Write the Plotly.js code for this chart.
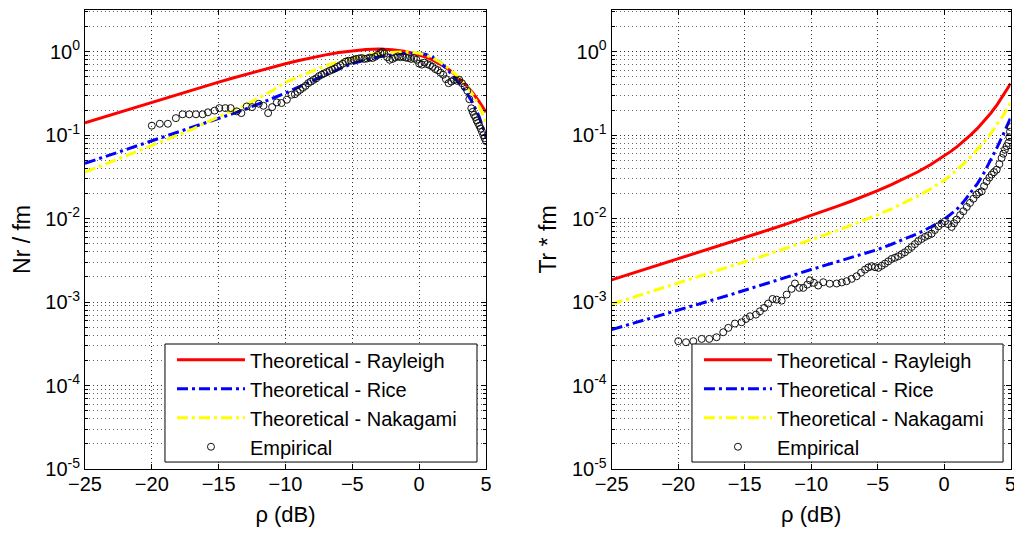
<!DOCTYPE html>
<html>
<head>
<meta charset="utf-8">
<script src="https://cdn.plot.ly/plotly-3.0.1.min.js"></script>
<style>html,body{margin:0;padding:0;background:#fff;}#chart{width:1014px;height:535px;}</style>
</head>
<body>
<div id="chart"></div>
<script>
// ---------- data ----------
const rhoTheory = [-25,-24,-23,-22,-21,-20,-19,-18,-17,-16,-15,-14,-13,-12,-11,-10,-9,-8,-7,-6,-5,-4,-3,-2,-1,0,0.5,1,1.5,2,2.5,3,3.5,4,4.5,5];

// Left panel: Nr / fm
const nrRayleigh = [0.1405,0.1575,0.1766,0.1978,0.2216,0.2482,0.2777,0.3106,0.3471,0.3874,0.4319,0.4806,0.5337,0.5911,0.6525,0.7172,0.7842,0.8516,0.9172,0.9772,1.0274,1.0622,1.0750,1.0594,1.0096,0.9221,0.8646,0.7986,0.7255,0.6468,0.5647,0.4815,0.3998,0.3223,0.2513,0.1885];
const nrRice = [0.046,0.052,0.059,0.067,0.076,0.086,0.097,0.110,0.124,0.140,0.158,0.180,0.205,0.235,0.275,0.32,0.38,0.45,0.53,0.62,0.72,0.80,0.87,0.92,0.96,0.96,0.93,0.86,0.76,0.64,0.52,0.42,0.33,0.245,0.165,0.095];
const nrNakagami = [0.036,0.042,0.049,0.056,0.065,0.075,0.087,0.100,0.117,0.140,0.165,0.195,0.23,0.28,0.34,0.43,0.50,0.59,0.68,0.76,0.84,0.91,0.96,0.99,1.0,0.96,0.91,0.84,0.76,0.67,0.58,0.49,0.40,0.31,0.22,0.14];

const nrEmpRho = [-20.0,-19.4,-18.8,-18.2,-17.7,-17.2,-16.7,-16.2,-15.8,-15.3,-14.95,-14.5,-14.1,-13.65,-13.3,-12.9,-12.5,-12.0,-11.65,-11.3,-11.0,-10.65,-10.3,-9.9,-9.55,-9.3,-9.1,-8.9,-8.7,-8.5,-8.3,-8.1,-7.9,-7.7,-7.5,-7.3,-7.1,-6.9,-6.7,-6.5,-6.3,-6.1,-5.9,-5.7,-5.5,-5.3,-5.1,-4.9,-4.7,-4.5,-4.3,-4.1,-3.9,-3.7,-3.5,-3.3,-3.1,-2.9,-2.75,-2.6,-2.4,-2.2,-2.0,-1.8,-1.6,-1.4,-1.2,-1.0,-0.8,-0.6,-0.4,-0.2,0.0,0.2,0.4,0.6,0.8,1.0,1.2,1.4,1.6,1.8,2.0,2.2,2.4,2.6,2.8,3.0,3.2,3.4,3.6,3.75,3.9,4.0,4.1,4.2,4.3,4.4,4.5,4.6,4.7,4.8,4.9,5.0];
const nrEmp = [0.130,0.137,0.137,0.160,0.178,0.178,0.178,0.178,0.188,0.197,0.211,0.211,0.211,0.193,0.184,0.221,0.217,0.238,0.225,0.184,0.217,0.247,0.243,0.266,0.305,0.31,0.33,0.35,0.37,0.39,0.42,0.44,0.46,0.48,0.51,0.53,0.55,0.57,0.59,0.61,0.63,0.66,0.69,0.72,0.76,0.78,0.78,0.80,0.82,0.83,0.84,0.82,0.83,0.85,0.84,0.87,0.92,0.97,1.0,0.95,0.86,0.80,0.82,0.85,0.88,0.86,0.87,0.85,0.84,0.82,0.84,0.80,0.72,0.70,0.74,0.71,0.69,0.66,0.62,0.60,0.56,0.53,0.47,0.42,0.44,0.46,0.45,0.46,0.42,0.38,0.34,0.27,0.21,0.19,0.175,0.165,0.15,0.14,0.13,0.12,0.11,0.10,0.092,0.085];

// Right panel: Tr * fm
const trRayleigh = [1.842e-3,2.067e-3,2.321e-3,2.606e-3,2.926e-3,3.286e-3,3.693e-3,4.150e-3,4.665e-3,5.248e-3,5.908e-3,6.656e-3,7.508e-3,8.479e-3,9.592e-3,0.010875,0.012366,0.014107,0.016163,0.018632,0.021629,0.025345,0.030058,0.036207,0.044501,0.056187,0.06393,0.073493,0.08547,0.10075,0.12065,0.14710,0.18320,0.23375,0.3067,0.41603];
const trRice = [4.68e-4,5.20e-4,5.78e-4,6.43e-4,7.14e-4,7.94e-4,8.87e-4,9.91e-4,1.107e-3,1.236e-3,1.380e-3,1.549e-3,1.738e-3,1.950e-3,2.188e-3,2.455e-3,2.742e-3,3.062e-3,3.420e-3,3.819e-3,4.266e-3,4.898e-3,5.689e-3,6.607e-3,7.943e-3,9.772e-3,0.0113,0.01318,0.0162,0.02042,0.0263,0.03548,0.0501,0.07244,0.1072,0.1622];
const trNakagami = [9.45e-4,1.060e-3,1.191e-3,1.337e-3,1.501e-3,1.686e-3,1.894e-3,2.129e-3,2.393e-3,2.692e-3,3.031e-3,3.415e-3,3.852e-3,4.350e-3,4.921e-3,5.579e-3,6.344e-3,7.237e-3,8.292e-3,9.558e-3,0.011096,0.013002,0.015420,0.018574,0.022829,0.028824,0.0332,0.038584,0.0459,0.055413,0.0671,0.08267,0.1041,0.13441,0.1785,0.24504];

const trEmpRho = [-19.99,-19.41,-18.86,-18.23,-17.66,-17.11,-16.61,-16.23,-15.73,-15.23,-14.9,-14.6,-14.15,-13.85,-13.53,-13.23,-12.9,-12.6,-12.22,-11.84,-11.47,-11.22,-10.89,-10.59,-10.29,-10.09,-9.79,-9.47,-9.09,-8.6,-8.08,-7.7,-7.33,-6.95,-6.58,-6.25,-5.95,-5.7,-5.45,-5.2,-4.95,-4.7,-4.45,-4.2,-3.95,-3.7,-3.45,-3.2,-2.95,-2.7,-2.44,-2.2,-1.95,-1.7,-1.44,-1.2,-0.94,-0.7,-0.44,-0.2,0.06,0.3,0.56,0.75,0.94,1.2,1.44,1.7,1.94,2.2,2.44,2.62,2.82,3.0,3.2,3.4,3.57,3.75,3.95,4.15,4.32,4.45,4.57,4.7,4.82,4.9,4.95,5.0];
const trEmp = [3.40e-4,3.30e-4,3.40e-4,3.62e-4,3.62e-4,3.79e-4,4.35e-4,4.91e-4,5.53e-4,5.73e-4,6.28e-4,6.76e-4,7.08e-4,7.76e-4,8.51e-4,9.6e-4,1.09e-3,1.07e-3,1.04e-3,1.23e-3,1.44e-3,1.67e-3,1.48e-3,1.48e-3,1.62e-3,1.82e-3,1.70e-3,1.58e-3,1.73e-3,1.66e-3,1.67e-3,1.72e-3,1.78e-3,1.90e-3,2.04e-3,2.25e-3,2.45e-3,2.60e-3,2.69e-3,2.62e-3,2.57e-3,2.72e-3,2.89e-3,3.08e-3,3.29e-3,3.40e-3,3.54e-3,3.75e-3,3.95e-3,4.25e-3,4.58e-3,4.95e-3,5.37e-3,5.70e-3,6.04e-3,6.30e-3,6.61e-3,7.30e-3,8.09e-3,8.70e-3,9.29e-3,8.60e-3,7.95e-3,8.80e-3,9.73e-3,0.0110,0.01225,0.0138,0.01542,0.0173,0.01938,0.0205,0.02123,0.0245,0.028,0.031,0.0337,0.036,0.0386,0.045,0.0533,0.060,0.067,0.074,0.0807,0.095,0.11,0.125];

const xTicks = [-25,-20,-15,-10,-5,0,5];
const yTickVals = [1e-5,1e-4,1e-3,1e-2,1e-1,1];
const yTickText = ['10<sup>-5</sup>','10<sup>-4</sup>','10<sup>-3</sup>','10<sup>-2</sup>','10<sup>-1</sup>','10<sup>0</sup>'];
const legendNames = ['Theoretical - Rayleigh','Theoretical - Rice','Theoretical - Nakagami','Empirical'];

// ---------- styling ----------
const FONT = 'Arial, "Liberation Sans", Helvetica, sans-serif';
const dashDot = '11px,4px,3px,4px';

function theory(x, y, name, color, dash, xa, ya, leg) {
  return {x: x, y: y, name: name, type: 'scatter', mode: 'lines',
    line: {color: color, width: 3, dash: dash}, xaxis: xa, yaxis: ya, legend: leg};
}
function emp(x, y, name, xa, ya, leg) {
  return {x: x, y: y, name: name, type: 'scatter', mode: 'markers',
    marker: {symbol: 'circle-open', size: 7, color: '#111', line: {width: 1, color: '#111'}},
    xaxis: xa, yaxis: ya, legend: leg};
}

const traces = [
  theory(rhoTheory, nrRayleigh, legendNames[0], '#ff0000', 'solid', 'x', 'y', 'legend'),
  theory(rhoTheory, nrRice, legendNames[1], '#0000ff', dashDot, 'x', 'y', 'legend'),
  theory(rhoTheory, nrNakagami, legendNames[2], '#ffff00', dashDot, 'x', 'y', 'legend'),
  emp(nrEmpRho, nrEmp, legendNames[3], 'x', 'y', 'legend'),
  theory(rhoTheory, trRayleigh, legendNames[0], '#ff0000', 'solid', 'x2', 'y2', 'legend2'),
  theory(rhoTheory, trRice, legendNames[1], '#0000ff', dashDot, 'x2', 'y2', 'legend2'),
  theory(rhoTheory, trNakagami, legendNames[2], '#ffff00', dashDot, 'x2', 'y2', 'legend2'),
  emp(trEmpRho, trEmp, legendNames[3], 'x2', 'y2', 'legend2')
];

function xAxis(domain, anchor) {
  return {domain: domain, anchor: anchor, range: [-25, 5], tickmode: 'array', tickvals: xTicks,
    ticks: 'inside', ticklen: 5, tickcolor: '#000', showline: true, linecolor: '#000', linewidth: 1,
    mirror: 'allticks', showgrid: true, gridcolor: '#333', griddash: '1px,3px', gridwidth: 1,
    zeroline: false, tickfont: {family: FONT, size: 20, color: '#000'}, automargin: false,
    ticklabeloverflow: 'allow', ticklabelstandoff: -3,
    title: {text: 'ρ (dB)', font: {family: FONT, size: 22, color: '#000'}, standoff: 12}};
}
function yAxis(domain, anchor, title) {
  return {domain: domain, anchor: anchor, type: 'log', range: [-5, 0.5], tickmode: 'array',
    tickvals: yTickVals, ticktext: yTickText, ticklabeloverflow: 'allow',
    ticks: 'inside', ticklen: 5, tickcolor: '#000', showline: true, linecolor: '#000', linewidth: 1,
    mirror: 'allticks', showgrid: true, gridcolor: '#333', griddash: '1px,3px', gridwidth: 1,
    minor: {dtick: 'D1', ticks: 'inside', ticklen: 3, tickcolor: '#000', showgrid: true,
            gridcolor: '#666', griddash: '1px,3px', gridwidth: 1},
    zeroline: false, tickfont: {family: FONT, size: 20, color: '#000'}, automargin: false,
    title: {text: title, font: {family: FONT, size: 23, color: '#000'}, standoff: 8}};
}

const legendBase = {bgcolor: 'rgba(0,0,0,0)', borderwidth: 0, font: {family: FONT, size: 20, color: '#000'},
  xanchor: 'left', yanchor: 'top', itemwidth: 68, tracegroupgap: 0};

const layout = {
  width: 1014, height: 535, margin: {l: 0, r: 0, t: 0, b: 0},
  paper_bgcolor: '#fff', plot_bgcolor: '#fff', showlegend: true,
  xaxis: xAxis([0.0838, 0.4793], 'y'),
  yaxis: yAxis([0.1234, 0.9813], 'x', 'Nr / fm'),
  xaxis2: xAxis([0.6032, 0.9967], 'y2'),
  yaxis2: yAxis([0.1234, 0.9813], 'x2', 'Tr * fm'),
  legend: Object.assign({}, legendBase, {x: 0.1696, y: 0.364}),
  legend2: Object.assign({}, legendBase, {x: 0.6893, y: 0.364}),
  shapes: [
    {type: 'rect', xref: 'paper', yref: 'paper', x0: 0.1627, x1: 0.4704, y0: 0.1364, y1: 0.357,
     fillcolor: '#fff', line: {color: '#000', width: 1}, layer: 'above'},
    {type: 'rect', xref: 'paper', yref: 'paper', x0: 0.6824, x1: 0.9892, y0: 0.1364, y1: 0.357,
     fillcolor: '#fff', line: {color: '#000', width: 1}, layer: 'above'}
  ]
};

Plotly.newPlot('chart', traces, layout, {staticPlot: true, displayModeBar: false});
</script>
</body>
</html>
